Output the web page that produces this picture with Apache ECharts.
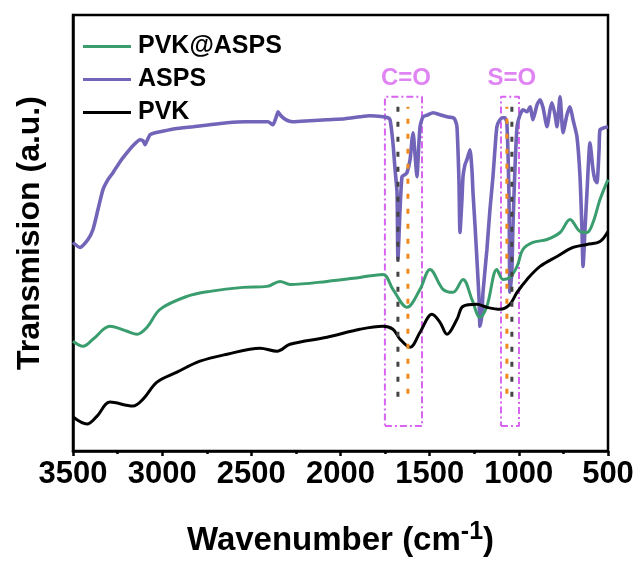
<!DOCTYPE html>
<html>
<head>
<meta charset="utf-8">
<script src="https://cdn.jsdelivr.net/npm/echarts@6/dist/echarts.min.js"></script>
<style>html,body{margin:0;padding:0;background:#fff;}#c{width:640px;height:562px;}</style>
</head>
<body>
<div id="c"></div>
<script>
// Wavenumber (cm-1) and relative transmission (a.u.)
var aspsX = [3500,3461,3416,3388,3360,3332,3304,3276,3236,3197,3164,3124,3107,3096,3085,3068,3040,3012,2928,2827,2732,2636,2536,2451,2407,2379,2362,2350,2339,2322,2294,2266,2171,2076,1975,1891,1835,1762,1734,1722,1706,1694,1683,1678,1666,1655,1638,1627,1610,1599,1593,1582,1571,1565,1554,1537,1509,1481,1442,1403,1369,1358,1347,1336,1330,1319,1313,1302,1291,1274,1263,1257,1246,1235,1223,1218,1207,1201,1179,1162,1145,1134,1123,1106,1089,1078,1067,1055,1050,1039,1033,1022,1010,993,977,954,937,921,898,881,864,842,825,814,797,786,769,752,730,713,696,674,657,646,640,629,618,601,584,573,562,550,545,522,500];
var aspsY = [209,204,212,222,242,262,272,279,290,299,306,312,311,307,311,317,319,320,323,325,327,329,330,330,330,327,334,340,337,334,331,330,331,332,333,335,336,335,334,332,309,282,259,192,242,275,277,279,292,312,319,297,275,292,325,335,337,339,337,335,334,332,325,272,219,252,275,287,292,302,282,259,227,192,152,125,137,159,202,242,275,302,325,332,334,334,329,252,159,182,225,282,325,337,342,340,345,332,347,352,344,325,342,349,337,325,355,319,337,345,332,315,275,222,185,222,259,309,282,272,269,302,322,324,325];

var compX = [3500,3444,3388,3293,3197,3141,3085,3012,2861,2732,2547,2412,2339,2283,2076,1891,1762,1706,1627,1554,1498,1425,1369,1313,1263,1218,1179,1123,1089,1050,1010,977,921,842,769,713,657,618,584,545,500];
var compY = [110,105,112,125,120,117,124,142,155,160,164,165,170,167,170,174,177,162,144,162,182,162,159,172,152,134,145,182,172,174,185,202,209,212,219,232,220,219,229,252,272];

var pvkX = [3500,3421,3365,3293,3164,3107,3029,2917,2788,2636,2451,2356,2283,2076,1891,1762,1706,1666,1610,1554,1487,1442,1403,1347,1313,1235,1179,1106,1050,1010,954,881,786,696,618,545,500];
var pvkY = [34,27,35,49,45,52,69,79,90,97,103,100,107,114,122,125,122,112,104,119,137,129,117,132,145,147,144,142,147,159,172,185,195,204,207,210,220];

var seriesNames = ['PVK@ASPS', 'ASPS', 'PVK'];
var xTicks = [3500, 3000, 2500, 2000, 1500, 1000, 500];

// Annotation bands (cm-1)
var bandLabels = ['C=O', 'S=O'];
var bandLeft = [1751, 1100];
var bandRight = [1543, 999];
var bandLabelX = [1633, 1039];
var bandBottom = 25, bandTop = 355, bandLabelY = 373;
var darkPeaks = [1678, 1039];
var orangePeaks = [1622, 1067];
var peakBottom = 49, peakTop = 345;

function zip(xs, ys) { return xs.map(function (x, i) { return [x, ys[i]]; }); }

var FONT = 'Liberation Sans, Arial, sans-serif';
var MAG = '#d864f0';
var series = [
  { name: 'PVK@ASPS', type: 'line', data: zip(compX, compY), symbol: 'none', smooth: 0.35,
    lineStyle: { color: '#3a9d6e', width: 3 }, itemStyle: { color: '#3a9d6e' }, z: 4 },
  { name: 'ASPS', type: 'line', data: zip(aspsX, aspsY), symbol: 'none', smooth: 0.2,
    lineStyle: { color: '#7264b8', width: 3.6 }, itemStyle: { color: '#7264b8' }, z: 3 },
  { name: 'PVK', type: 'line', data: zip(pvkX, pvkY), symbol: 'none', smooth: 0.35,
    lineStyle: { color: '#000000', width: 3 }, itemStyle: { color: '#000000' }, z: 5 }
];

bandLabels.forEach(function (lab, i) {
  series.push({ type: 'line', silent: true, symbol: 'none', z: 2,
    data: [[bandLeft[i], bandBottom], [bandRight[i], bandBottom], [bandRight[i], bandTop], [bandLeft[i], bandTop], [bandLeft[i], bandBottom]],
    lineStyle: { color: MAG, width: 2, type: [7, 3, 2, 3] } });
  series.push({ type: 'line', silent: true, symbol: 'none', z: 6,
    data: [[darkPeaks[i], peakTop], [darkPeaks[i], peakBottom]],
    lineStyle: { color: '#444444', width: 3, type: [5, 10] } });
  series.push({ type: 'line', silent: true, symbol: 'none', z: 6,
    data: [[orangePeaks[i], peakTop], [orangePeaks[i], peakBottom]],
    lineStyle: { color: '#f08a1c', width: 3, type: [5, 10], dashOffset: 3 } });
  series.push({ type: 'scatter', silent: true, symbolSize: 0, z: 7,
    data: [[bandLabelX[i], bandLabelY]],
    label: { show: true, position: 'inside', formatter: lab, color: MAG, fontSize: 24, fontWeight: 'bold', fontFamily: FONT } });
});

var chart = echarts.init(document.getElementById('c'), null, { renderer: 'canvas' });
chart.setOption({
  animation: false,
  backgroundColor: '#ffffff',
  grid: { left: 73, right: 32, top: 15, bottom: 110, show: true, borderColor: '#000', borderWidth: 2.5, backgroundColor: 'transparent' },
  legend: {
    data: seriesNames, orient: 'vertical', left: 78, top: 29, itemGap: 8,
    icon: 'rect', itemWidth: 48, itemHeight: 3,
    textStyle: { fontSize: 25, fontWeight: 'bold', color: '#000', fontFamily: FONT, padding: [0, 0, 0, 2] }
  },
  xAxis: {
    type: 'value', min: 500, max: 3500, interval: 500, inverse: true,
    axisLine: { show: true, lineStyle: { color: '#000', width: 2.5 } },
    axisTick: { show: true, inside: false, length: 5, lineStyle: { width: 2.5, color: '#000' } },
    minorTick: { show: true, splitNumber: 2, length: 3, lineStyle: { width: 2.5, color: '#000' } },
    splitLine: { show: false },
    axisLabel: { fontSize: 31, fontWeight: 'bold', color: '#000', fontFamily: FONT, margin: 8,
      formatter: function (v) { return xTicks.indexOf(v) >= 0 ? String(v) : ''; } },
    name: '{a|Wavenumber (cm}{s|-1}{a|)}', nameLocation: 'middle', nameGap: 69,
    nameTextStyle: { rich: {
      a: { fontSize: 33, fontWeight: 'bold', color: '#000', fontFamily: FONT },
      s: { fontSize: 25, fontWeight: 'bold', color: '#000', fontFamily: FONT, padding: [0, 0, 16, 0] }
    } }
  },
  yAxis: {
    type: 'value', min: 0, max: 437,
    axisLine: { show: true, lineStyle: { color: '#000', width: 2.5 } },
    axisTick: { show: false }, axisLabel: { show: false }, splitLine: { show: false },
    name: 'Transmision (a.u.)', nameLocation: 'middle', nameGap: 27,
    nameTextStyle: { fontSize: 32, fontWeight: 'bold', color: '#000', fontFamily: FONT }
  },
  series: series
});
</script>
</body>
</html>
